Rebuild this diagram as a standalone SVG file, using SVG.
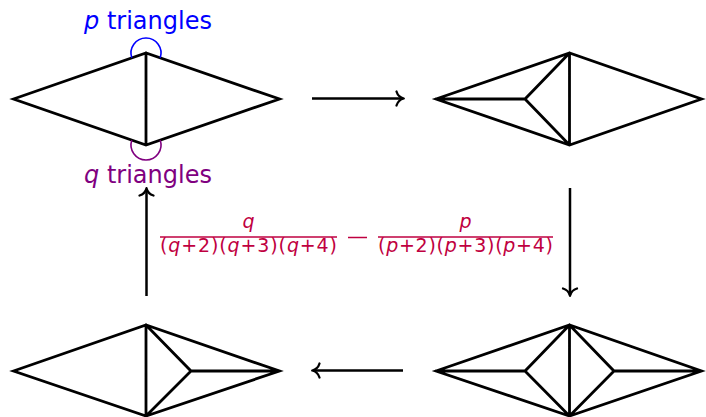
<svg xmlns="http://www.w3.org/2000/svg" width="706" height="417" viewBox="0 0 706 417">
<defs>
<style>
.sh{fill:none;stroke:#000;stroke-width:2.8;stroke-linejoin:miter;stroke-miterlimit:10;stroke-linecap:round}
.ar{fill:none;stroke:#000;stroke-width:2.5}
.lbl{font-family:"DejaVu Sans",sans-serif;font-size:24px;text-anchor:middle}
.fr{font-family:"DejaVu Sans",sans-serif;font-size:19px;text-anchor:middle;fill:#bf0040}
.i{font-style:italic}
</style>
<marker id="to" markerUnits="userSpaceOnUse" markerWidth="16" markerHeight="16" refX="0" refY="0" viewBox="-9 -8 11 16" orient="auto" overflow="visible">
<path d="M -6.5 -7 C -5.3 -3 -2.5 -0.8 0.8 0 C -2.5 0.8 -5.3 3 -6.5 7" fill="none" stroke="#000" stroke-width="2.3" stroke-linecap="round" stroke-linejoin="round"/>
</marker>
</defs>
<rect width="706" height="417" fill="#fff"/>

<g id="diamond-p-q">
<path class="sh" d="M13.5 99 L146 53 L279.5 99 L146 145 Z M146 53 L146 145"/>
<path d="M131.76 57.71 A15 15 0 1 1 160.24 57.71" fill="none" stroke="#0000ff" stroke-width="1.6"/>
<path d="M131.76 140.29 A15 15 0 1 0 160.24 140.29" fill="none" stroke="#800080" stroke-width="1.6"/>
<text class="lbl" x="148" y="29" fill="#0000ff"><tspan class="i">p</tspan> triangles</text>
<text class="lbl" x="148" y="183" fill="#800080"><tspan class="i">q</tspan> triangles</text>
</g>

<g id="diamond-top-right">
<path class="sh" d="M436 99 L569.5 53 L701.5 99 L569.5 145 Z M569.5 53 L569.5 145 M436 99 L525 99 L569.5 53 M525 99 L569.5 145"/>
</g>

<g id="diamond-bottom-right">
<path class="sh" d="M436 371 L569.5 325 L701.5 371 L569.5 416 Z M569.5 325 L569.5 416 M436 371 L525 371 L569.5 325 M525 371 L569.5 416 M701.5 371 L614 371 L569.5 325 M614 371 L569.5 416"/>
</g>

<g id="diamond-bottom-left">
<path class="sh" d="M13.5 371 L146 325 L279.5 371 L146 416 Z M146 325 L146 416 M279.5 371 L191 371 L146 325 M191 371 L146 416"/>
</g>

<g id="connectors">
<line class="ar" x1="312" y1="98.5" x2="403" y2="98.5" marker-end="url(#to)"/>
<line class="ar" x1="570" y1="188" x2="570" y2="295" marker-end="url(#to)"/>
<line class="ar" x1="403" y1="370.5" x2="313" y2="370.5" marker-end="url(#to)"/>
<line class="ar" x1="146.5" y1="296" x2="146.5" y2="189" marker-end="url(#to)"/>
</g>

<g id="formula">
<text class="fr i" x="248.5" y="228">q</text>
<line x1="160" y1="237" x2="337" y2="237" stroke="#bf0040" stroke-width="1.4"/>
<text class="fr" x="248.5" y="252" textLength="177" lengthAdjust="spacing">(<tspan class="i">q</tspan>+2)(<tspan class="i">q</tspan>+3)(<tspan class="i">q</tspan>+4)</text>
<line x1="348" y1="237.5" x2="367" y2="237.5" stroke="#bf0040" stroke-width="1.5"/>
<text class="fr i" x="465.5" y="228">p</text>
<line x1="378" y1="237" x2="553" y2="237" stroke="#bf0040" stroke-width="1.4"/>
<text class="fr" x="465.5" y="252" textLength="175" lengthAdjust="spacing">(<tspan class="i">p</tspan>+2)(<tspan class="i">p</tspan>+3)(<tspan class="i">p</tspan>+4)</text>
</g>
</svg>
